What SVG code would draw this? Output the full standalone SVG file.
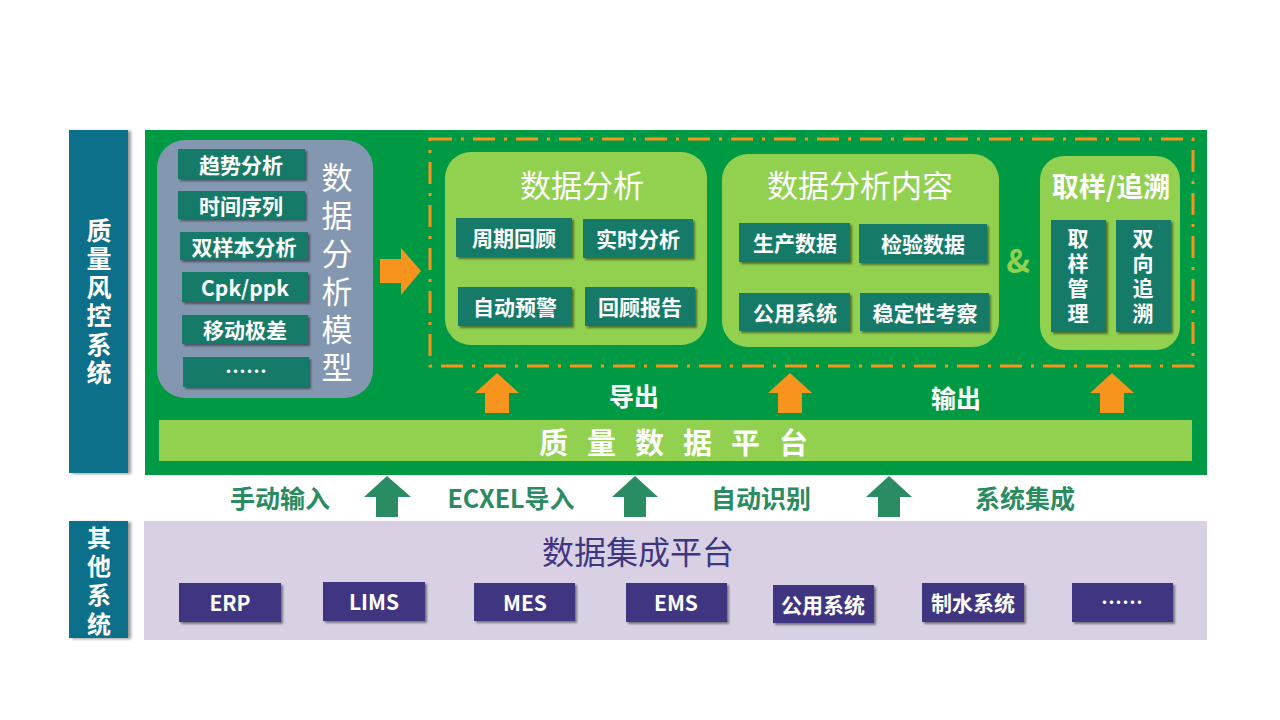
<svg xmlns="http://www.w3.org/2000/svg" width="1280" height="720" viewBox="0 0 1280 720">
<defs>
<filter id="sh" x="-20%" y="-20%" width="150%" height="160%">
<feDropShadow dx="2" dy="2" stdDeviation="1.2" flood-color="#000" flood-opacity="0.45"/>
</filter>
<filter id="sh2" x="-20%" y="-5%" width="150%" height="115%">
<feDropShadow dx="3" dy="1" stdDeviation="1.5" flood-color="#000" flood-opacity="0.4"/>
</filter>
<style>
.cjk{font-family:"Noto Sans CJK SC","Noto Sans",sans-serif}
.b{font-weight:bold}
.wt{fill:#fff}
.vt{writing-mode:vertical-rl;text-anchor:middle}
.tbox{fill:#127A68;filter:url(#sh)}
.pbox{fill:#3F3681;filter:url(#sh)}
.lg{fill:#92D050}
.orange{fill:#F7941D}
.garrow{fill:#2A8C62}
.glabel{fill:#2A8A60;font-size:25px;font-weight:bold}
.btxt{font-size:21px;font-weight:bold;fill:#fff;text-anchor:middle;dominant-baseline:central}
</style>
</defs>
<rect width="1280" height="720" fill="#fff"/>

<g id="side-quality">
<rect x="69" y="130" width="59" height="343" fill="#09708A" filter="url(#sh2)"/>
<text class="cjk b wt vt" x="99" y="303" font-size="25" letter-spacing="3.5">质量风控系统</text>
</g>

<g id="side-other">
<rect x="69" y="521" width="59" height="117" fill="#09708A" filter="url(#sh2)"/>
<text class="cjk b wt vt" x="99" y="583" font-size="24" letter-spacing="4.7">其他系统</text>
</g>

<g id="main-green">
<rect x="145" y="130" width="1062" height="345" fill="#009A44"/>
</g>

<g id="model">
<rect x="157" y="140" width="216" height="258" rx="28" fill="#8497B0"/>
<rect class="tbox" x="178" y="149" width="127" height="30"/>
<text class="cjk btxt" x="241" y="164">趋势分析</text>
<rect class="tbox" x="178" y="191" width="127" height="28"/>
<text class="cjk btxt" x="241" y="205">时间序列</text>
<rect class="tbox" x="180" y="232" width="128" height="28"/>
<text class="cjk btxt" x="244" y="246">双样本分析</text>
<rect class="tbox" x="182" y="272" width="126" height="30"/>
<text class="cjk btxt" x="245" y="287" font-size="22">Cpk/ppk</text>
<rect class="tbox" x="182" y="315" width="126" height="29"/>
<text class="cjk btxt" x="245" y="329">移动极差</text>
<rect class="tbox" x="183" y="357" width="126" height="30"/>
<text class="cjk btxt" x="246" y="370" font-size="18">……</text>
<text class="cjk wt vt" x="337" y="276" font-size="31" letter-spacing="7">数据分析模型</text>
</g>

<g id="connectors">
<polygon class="orange" points="380,259 401,259 401,248 421,271 401,295 401,283 380,283"/>
<rect x="430" y="139" width="763" height="227" fill="none" stroke="#F7941D" stroke-width="3" stroke-dasharray="22 9 3 9"/>
<polygon class="orange" points="475,393 497,373 519,393 509,393 509,413 485,413 485,393"/>
<polygon class="orange" points="768,393 790,373 812,393 802,393 802,413 778,413 778,393"/>
<polygon class="orange" points="1090,393 1112,373 1134,393 1124,393 1124,413 1100,413 1100,393"/>
<polygon class="garrow" points="364,497 387,476 411,497 398,497 398,517 376,517 376,497"/>
<polygon class="garrow" points="612,497 635,476 658,497 646,497 646,517 624,517 624,497"/>
<polygon class="garrow" points="866,497 889,476 912,497 900,497 900,517 878,517 878,497"/>
</g>

<g id="analysis">
<rect class="lg" x="445" y="152" width="262" height="193" rx="26"/>
<text class="cjk wt" x="582" y="183" font-size="31" text-anchor="middle" dominant-baseline="central">数据分析</text>
<rect class="tbox" x="456" y="218" width="116" height="39"/>
<text class="cjk btxt" x="514" y="237" font-size="22">周期回顾</text>
<rect class="tbox" x="583" y="219" width="110" height="39"/>
<text class="cjk btxt" x="638" y="238" font-size="22">实时分析</text>
<rect class="tbox" x="458" y="287" width="114" height="39"/>
<text class="cjk btxt" x="515" y="306" font-size="22">自动预警</text>
<rect class="tbox" x="585" y="287" width="110" height="39"/>
<text class="cjk btxt" x="640" y="306" font-size="22">回顾报告</text>
</g>

<g id="analysis-content">
<rect class="lg" x="722" y="154" width="277" height="193" rx="26"/>
<text class="cjk wt" x="860" y="183" font-size="31" text-anchor="middle" dominant-baseline="central">数据分析内容</text>
<rect class="tbox" x="739" y="223" width="111" height="39"/>
<text class="cjk btxt" x="795" y="242" font-size="22">生产数据</text>
<rect class="tbox" x="859" y="224" width="128" height="39"/>
<text class="cjk btxt" x="923" y="243" font-size="22">检验数据</text>
<rect class="tbox" x="739" y="293" width="111" height="38"/>
<text class="cjk btxt" x="795" y="312" font-size="22">公用系统</text>
<rect class="tbox" x="860" y="293" width="129" height="38"/>
<text class="cjk btxt" x="925" y="312" font-size="22">稳定性考察</text>
</g>

<g id="amp">
<text class="cjk b" x="1018" y="259" font-size="32" fill="#92D050" text-anchor="middle" dominant-baseline="central">&amp;</text>
</g>

<g id="sampling">
<rect class="lg" x="1040" y="156" width="140" height="194" rx="24"/>
<text class="cjk b wt" x="1111" y="185" font-size="27" text-anchor="middle" dominant-baseline="central">取样/追溯</text>
<rect class="tbox" x="1051" y="220" width="55" height="112"/>
<rect class="tbox" x="1116" y="220" width="55" height="112"/>
<text class="cjk b wt vt" x="1078" y="278" font-size="21" letter-spacing="4">取样管理</text>
<text class="cjk b wt vt" x="1143" y="278" font-size="21" letter-spacing="4">双向追溯</text>
</g>

<g id="labels-out">
<text class="cjk b wt" x="634" y="395" font-size="25" text-anchor="middle" dominant-baseline="central">导出</text>
<text class="cjk b wt" x="956" y="397" font-size="25" text-anchor="middle" dominant-baseline="central">输出</text>
</g>

<g id="quality-platform">
<rect class="lg" x="159" y="420" width="1033" height="41"/>
<text class="cjk b wt" x="683" y="441" font-size="29" letter-spacing="19" text-anchor="middle" dominant-baseline="central">质量数据平台</text>
</g>

<g id="input-labels" class="cjk">
<text class="glabel" x="280" y="497" text-anchor="middle" dominant-baseline="central">手动输入</text>
<text class="glabel" x="511" y="497" text-anchor="middle" dominant-baseline="central">ECXEL导入</text>
<text class="glabel" x="761" y="497" text-anchor="middle" dominant-baseline="central">自动识别</text>
<text class="glabel" x="1025" y="497" text-anchor="middle" dominant-baseline="central">系统集成</text>
</g>

<g id="integration">
<rect x="144" y="521" width="1063" height="119" fill="#D9D1E3"/>
<text class="cjk" x="638" y="550" font-size="32" fill="#3F3681" text-anchor="middle" dominant-baseline="central">数据集成平台</text>
<rect class="pbox" x="179" y="583" width="102" height="39"/>
<text class="cjk btxt" x="230" y="602">ERP</text>
<rect class="pbox" x="323" y="582" width="102" height="39"/>
<text class="cjk btxt" x="374" y="601">LIMS</text>
<rect class="pbox" x="474" y="583" width="101" height="38"/>
<text class="cjk btxt" x="525" y="602">MES</text>
<rect class="pbox" x="626" y="583" width="101" height="39"/>
<text class="cjk btxt" x="676" y="602">EMS</text>
<rect class="pbox" x="773" y="585" width="101" height="38"/>
<text class="cjk btxt" x="823" y="604" font-size="19">公用系统</text>
<rect class="pbox" x="922" y="583" width="102" height="39"/>
<text class="cjk btxt" x="973" y="602" font-size="19">制水系统</text>
<rect class="pbox" x="1072" y="583" width="101" height="39"/>
<text class="cjk btxt" x="1122" y="601" font-size="16">……</text>
</g>
</svg>
